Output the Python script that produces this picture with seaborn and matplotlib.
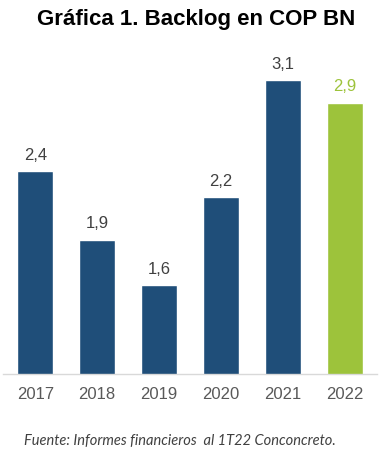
import matplotlib
matplotlib.use('Agg')
import matplotlib.pyplot as plt
import seaborn as sns
import pandas as pd

# ── DATA ────────────────────────────────────────────────────────────────────
years  = ["2017", "2018", "2019", "2020", "2021", "2022"]
values = [2.42, 1.94, 1.62, 2.24, 3.06, 2.90]   # COP billones (bar heights)
labels = ["2,4", "1,9", "1,6", "2,2", "3,1", "2,9"]

BLUE  = "#1F4E79"
GREEN = "#9DC33B"
colors = [BLUE] * 5 + [GREEN]

sns.set_theme(style="white")
plt.rcParams['font.family'] = ['Liberation Sans', 'DejaVu Sans']

df = pd.DataFrame({"year": years, "value": values})

fig = plt.figure(figsize=(3.92, 4.61), dpi=100)
ax = fig.add_axes([3 / 392, 87 / 461, 374 / 392, 317 / 461])

sns.barplot(data=df, x="year", y="value", hue="year", palette=colors,
            width=0.58, legend=False, ax=ax, saturation=1)

for i, (v, lab) in enumerate(zip(values, labels)):
    ax.annotate(lab, (i, v), xytext=(0, 6), textcoords='offset points',
                ha='center', va='bottom', fontsize=12,
                color=GREEN if i == 5 else "#404040")

# value axis does not start at zero in the original
ax.set_xlim(-0.52, 5.52)
ax.set_ylim(1.0, 3.22)
ax.set_xlabel("")
ax.set_ylabel("")
ax.set_yticks([])
ax.tick_params(axis='x', length=0, labelsize=12, colors="#595959", pad=9)
for s in ["top", "right", "left"]:
    ax.spines[s].set_visible(False)
ax.spines["bottom"].set_color("#D9D9D9")
ax.spines["bottom"].set_linewidth(1)

fig.text(0.5, 1 - 19 / 461, "Gráfica 1. Backlog en COP BN", ha='center', va='center',
         fontsize=16, fontweight='bold', color="black")
fig.text(24 / 392, 1 - 441 / 461, "Fuente: Informes financieros  al 1T22 Conconcreto.",
         ha='left', va='center', fontsize=10.5, style='italic', color="#404040",
         family=['Lato', 'DejaVu Sans'])

fig.savefig("out.png", dpi=100)
